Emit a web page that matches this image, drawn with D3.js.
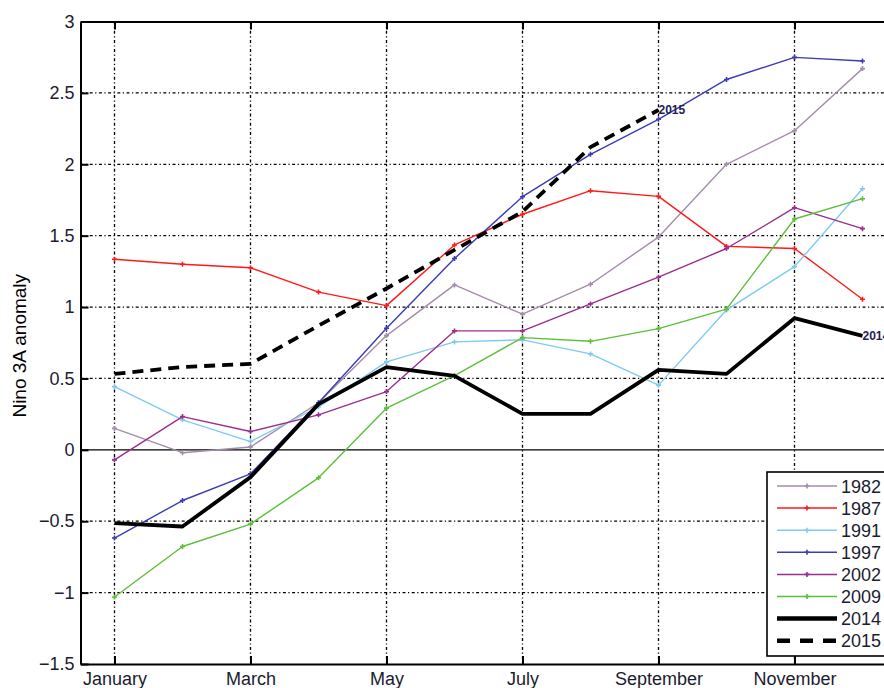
<!DOCTYPE html>
<html>
<head>
<meta charset="utf-8">
<script src="https://cdn.jsdelivr.net/npm/d3@7/dist/d3.min.js"></script>
<style>
  html, body { margin: 0; padding: 0; background: #fff; }
  svg { display: block; font-family: "Liberation Sans", Arial, sans-serif; }
</style>
</head>
<body>
<svg id="chart" width="884" height="688"></svg>
<script>
// ---- data ----
const monthNames = ["January","February","March","April","May","June","July","August","September","October","November","December"];
const monthIdx = [1,2,3,4,5,6,7,8,9,10,11,12];
const xTickMonths = [1,3,5,7,9,11];
const yTicks = [-1.5,-1,-0.5,0,0.5,1,1.5,2,2.5,3];

const years = ["1982","1987","1991","1997","2002","2009","2014","2015"];
const v1982 = [0.15, -0.02, 0.02, 0.33, 0.80, 1.155, 0.95, 1.16, 1.49, 2.00, 2.235, 2.67];
const v1987 = [1.335, 1.30, 1.275, 1.105, 1.01, 1.435, 1.65, 1.815, 1.775, 1.425, 1.41, 1.055];
const v1991 = [0.443, 0.21, 0.058, 0.30, 0.616, 0.756, 0.77, 0.672, 0.453, 0.98, 1.283, 1.829];
const v1997 = [-0.618, -0.355, -0.168, 0.33, 0.852, 1.34, 1.773, 2.07, 2.315, 2.594, 2.749, 2.723];
const v2002 = [-0.07, 0.233, 0.128, 0.245, 0.408, 0.833, 0.833, 1.022, 1.209, 1.41, 1.696, 1.549];
const v2009 = [-1.031, -0.677, -0.52, -0.196, 0.292, 0.52, 0.786, 0.76, 0.849, 0.985, 1.617, 1.759];
const v2014 = [-0.513, -0.537, -0.191, 0.32, 0.579, 0.518, 0.252, 0.252, 0.56, 0.532, 0.922, 0.798];
const v2015 = [0.532, 0.58, 0.602, 0.87, 1.13, 1.40, 1.668, 2.12, 2.38];

const seriesValues = [v1982, v1987, v1991, v1997, v2002, v2009, v2014, v2015];
const seriesColors = ["#a48daa", "#ff1a1a", "#7fcaf0", "#3c3cb8", "#992e90", "#5cbf3a", "#000000", "#000000"];

// ---- layout ----
const svg = d3.select("#chart");
const x = d3.scaleLinear().domain([0.5, 12.5]).range([80.5, 896.5]);
const y = d3.scaleLinear().domain([-1.5, 3]).range([664, 21.5]);
const textColor = "#1c1c30";

const fmt = v => (v < 0 ? "\u2212" : "") + d3.format("")(Math.abs(v));

// grid
const grid = svg.append("g");
grid.selectAll("line.h").data(yTicks.filter(t => t !== -1.5 && t !== 0 && t !== 3)).enter()
  .append("line")
  .attr("x1", x(0.5)).attr("x2", x(12.5))
  .attr("y1", d => y(d)).attr("y2", d => y(d))
  .attr("stroke", "#000").attr("stroke-width", 1.3)
  .attr("stroke-dasharray", "3,2.5,1.2,2.5");
grid.selectAll("line.v").data(xTickMonths).enter()
  .append("line")
  .attr("x1", d => x(d)).attr("x2", d => x(d))
  .attr("y1", y(3)).attr("y2", y(-1.5))
  .attr("stroke", "#000").attr("stroke-width", 1.3)
  .attr("stroke-dasharray", "3,2.5,1.2,2.5");

// zero line
svg.append("line")
  .attr("x1", x(0.5)).attr("x2", x(12.5))
  .attr("y1", y(0)).attr("y2", y(0))
  .attr("stroke", "#000").attr("stroke-width", 1.4);

// axes
const axL = svg.append("g").attr("transform", `translate(${x(0.5)},0)`)
  .call(d3.axisLeft(y).tickValues(yTicks).tickSizeInner(-8).tickSizeOuter(0).tickPadding(6).tickFormat(fmt));
const axB = svg.append("g").attr("transform", `translate(0,${y(-1.5)})`)
  .call(d3.axisBottom(x).tickValues(xTickMonths).tickSizeInner(-8).tickSizeOuter(0).tickPadding(8).tickFormat(d => monthNames[d - 1]));
const axT = svg.append("g").attr("transform", `translate(0,${y(3)})`)
  .call(d3.axisTop(x).tickValues(xTickMonths).tickSizeInner(-8).tickSizeOuter(0).tickFormat(""));
[axL, axB, axT].forEach(a => {
  a.select(".domain").attr("stroke", "#000").attr("stroke-width", 2);
  a.selectAll(".tick line").attr("stroke", "#000").attr("stroke-width", 2);
  a.selectAll(".tick text").attr("fill", textColor).style("font-size", "18px");
});

// y label
svg.append("text")
  .attr("transform", `translate(26,${(y(3) + y(-1.5)) / 2 + 3}) rotate(-90)`)
  .attr("text-anchor", "middle")
  .attr("fill", "#000")
  .style("font-size", "19px")
  .text("Nino 3A anomaly");

// series
const line = d3.line().x((d, i) => x(monthIdx[i])).y(d => y(d));
const plot = svg.append("g");
seriesValues.forEach((vals, k) => {
  const yr = years[k];
  const thick = (yr === "2014" || yr === "2015");
  plot.append("path")
    .attr("d", line(vals))
    .attr("fill", "none")
    .attr("stroke", seriesColors[k])
    .attr("stroke-width", thick ? 3.8 : 1.4)
    .attr("stroke-linejoin", "round")
    .attr("stroke-dasharray", yr === "2015" ? "11,7" : null);
  if (!thick) {
    plot.append("g").selectAll("path").data(vals).enter()
      .append("path")
      .attr("d", (d, i) => {
        const px = x(monthIdx[i]), py = y(d), s = 2.5;
        return `M${px - s},${py}H${px + s}M${px},${py - s}V${py + s}`;
      })
      .attr("stroke", seriesColors[k]).attr("stroke-width", 1.6);
  }
});

// end labels
[["2015", v2015], ["2014", v2014]].forEach(([lab, vals]) => {
  const i = vals.length - 1;
  svg.append("text")
    .attr("x", x(monthIdx[i])).attr("y", y(vals[i]) + 4)
    .attr("fill", "#1e2255")
    .style("font-size", "12px").style("font-weight", "bold")
    .text(lab);
});

// legend
const lg = svg.append("g");
lg.append("rect").attr("x", 767).attr("y", 472).attr("width", 140).attr("height", 184)
  .attr("fill", "#fff").attr("stroke", "#000").attr("stroke-width", 1.6);
years.forEach((yr, k) => {
  const ly = 486 + k * 22.1;
  const thick = (yr === "2014" || yr === "2015");
  lg.append("line").attr("x1", 777).attr("x2", 837).attr("y1", ly).attr("y2", ly)
    .attr("stroke", seriesColors[k])
    .attr("stroke-width", thick ? 4.5 : 1.5)
    .attr("stroke-dasharray", yr === "2015" ? "13,10" : null);
  if (!thick) {
    lg.append("path").attr("d", `M804.5,${ly}H809.5M807,${ly - 2.5}V${ly + 2.5}`)
      .attr("stroke", seriesColors[k]).attr("stroke-width", 1.6);
  }
  lg.append("text").attr("x", 841).attr("y", ly + 6.5)
    .attr("fill", textColor).style("font-size", "18px").text(yr);
});
</script>
</body>
</html>
